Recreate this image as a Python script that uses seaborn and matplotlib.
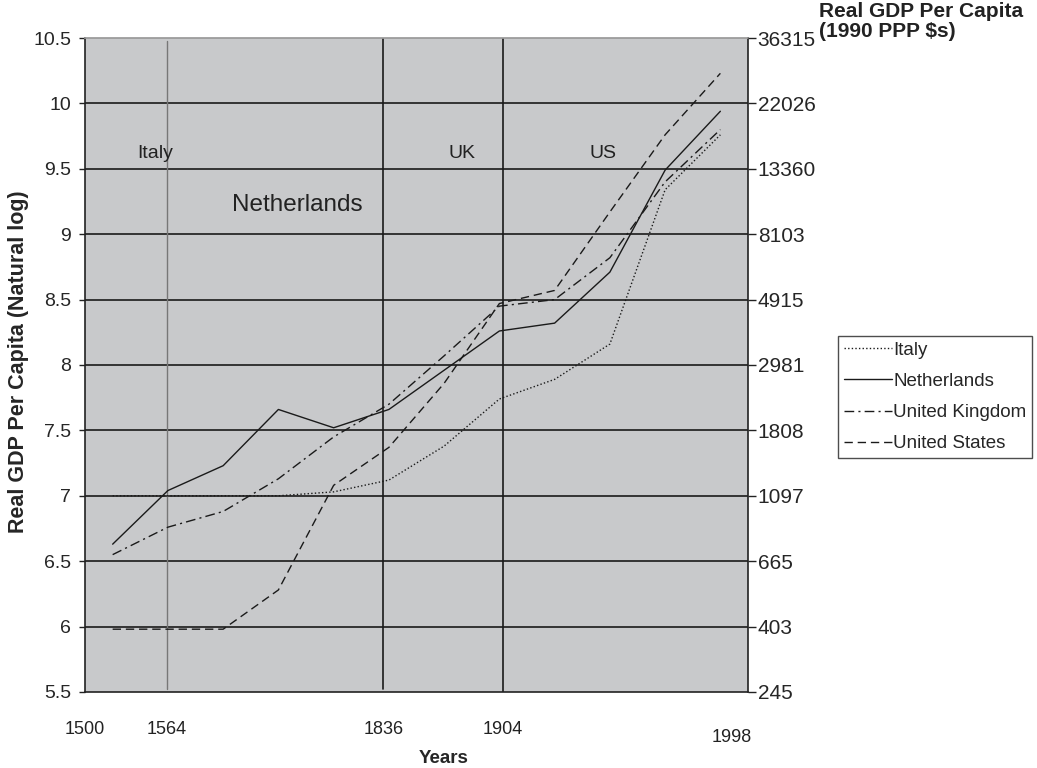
import numpy as np
import pandas as pd
import seaborn as sns
import matplotlib.pyplot as plt
from matplotlib.lines import Line2D

# data: 12 evenly spaced periods, log real GDP per capita
periods = list(range(12))
italy = [7.00, 7.00, 7.00, 7.00, 7.03, 7.12, 7.38, 7.74, 7.89, 8.16, 9.34, 9.76]
netherlands = [6.63, 7.04, 7.23, 7.66, 7.52, 7.66, 7.96, 8.26, 8.32, 8.71, 9.49, 9.94]
united_kingdom = [6.55, 6.76, 6.88, 7.13, 7.45, 7.70, 8.07, 8.45, 8.50, 8.82, 9.40, 9.80]
united_states = [5.98, 5.98, 5.98, 6.28, 7.08, 7.37, 7.86, 8.47, 8.57, 9.17, 9.76, 10.23]
countries = ['Italy', 'Netherlands', 'United Kingdom', 'United States']

left_ticks = [5.5, 6, 6.5, 7, 7.5, 8, 8.5, 9, 9.5, 10, 10.5]
left_labels = ['5.5', '6', '6.5', '7', '7.5', '8', '8.5', '9', '9.5', '10', '10.5']
right_labels = ['245', '403', '665', '1097', '1808', '2981', '4915', '8103',
                '13360', '22026', '36315']

# year labels under the axis and the leadership-change markers (period units)
year_labels = ['1500', '1564', '1836', '1904', '1998']
year_pos = [-0.5, 0.98, 4.9, 7.07, 11.2]
marker_pos = [0.98, 4.9, 7.07]
leader_names = ['Italy', 'UK', 'US']
leader_pos = [0.77, 6.32, 8.88]

df = pd.DataFrame({
    'period': periods * 4,
    'value': italy + netherlands + united_kingdom + united_states,
    'country': sum([[c] * 12 for c in countries], []),
})

sns.set_theme(style='white')
plt.rcParams['font.family'] = ['Liberation Sans', 'DejaVu Sans']

fig = plt.figure(figsize=(10.37, 7.68), dpi=100)
ax = fig.add_axes([0.082, 0.099, 0.6393, 0.8515])
ax.set_facecolor('#c8c9cb')

dash_map = {'Italy': (1, 1.6), 'Netherlands': '', 'United Kingdom': (7, 3, 1.5, 3),
            'United States': (6, 3.5)}
sns.lineplot(data=df, x='period', y='value', hue='country', style='country',
             palette=['#1a1a1a'] * 4, dashes=dash_map, linewidth=1.0,
             legend=False, ax=ax, zorder=3)

ax.set_xlim(-0.5, 11.5)
ax.set_ylim(5.5, 10.5)
ax.set_yticks(left_ticks)
ax.set_yticklabels(left_labels, fontsize=14)
ax.set_xticks(np.arange(-0.5, 12, 1))
ax.set_xticklabels([])
ax.tick_params(axis='x', direction='out', length=5, width=1, color='#222222')
ax.tick_params(axis='y', direction='out', length=4, width=1, color='#222222', pad=6)
for y in left_ticks[1:-1]:
    ax.axhline(y, color='#1a1a1a', lw=1.2, zorder=1)

# leadership change markers
ax.axvline(marker_pos[0], color='#777777', lw=1.0, ymax=0.995, ymin=0.005, zorder=2)
ax.axvline(marker_pos[1], color='#1a1a1a', lw=1.2, ymin=0.005, zorder=2)
ax.axvline(marker_pos[2], color='#1a1a1a', lw=1.2, zorder=2)

for name, xp in zip(leader_names, leader_pos):
    ax.text(xp, 9.62, name, fontsize=14, ha='center', va='center', color='#222222')
ax.text(3.34, 9.22, 'Netherlands', fontsize=17.5, ha='center', va='center', color='#222222')

trans = ax.get_xaxis_transform()
for lab, xp in zip(year_labels, year_pos):
    yy = -0.07 if lab == '1998' else -0.058
    ax.text(xp, yy, lab, transform=trans, fontsize=13, ha='center', va='center',
            color='#222222')

for side in ['left', 'bottom', 'right']:
    ax.spines[side].set_color('#222222')
    ax.spines[side].set_linewidth(1.2)
ax.spines['top'].set_color('#999999')

ax.set_xlabel('Years', fontsize=13.5, fontweight='bold')
ax.xaxis.set_label_coords(0.541, -0.089)
ax.set_ylabel('Real GDP Per Capita (Natural log)', fontsize=15.5, fontweight='bold')
ax.yaxis.set_label_coords(-0.084, 0.505)

ax2 = ax.twinx()
ax2.set_ylim(5.5, 10.5)
ax2.set_yticks(left_ticks)
ax2.set_yticklabels(right_labels, fontsize=15)
ax2.tick_params(axis='y', direction='out', length=6, width=1, color='#222222', pad=1)
for side in ['left', 'bottom', 'right', 'top']:
    ax2.spines[side].set_visible(False)
ax2.grid(False)

fig.text(0.790, 0.997, 'Real GDP Per Capita\n(1990 PPP $s)', fontsize=15,
         fontweight='bold', ha='left', va='top', linespacing=1.05, color='#222222')

handles = [Line2D([], [], color='#1a1a1a', lw=1.0, dashes=dash_map[c])
           if dash_map[c] else Line2D([], [], color='#1a1a1a', lw=1.0, linestyle='-')
           for c in countries]
leg = fig.legend(handles, countries, loc='upper left', bbox_to_anchor=(0.808, 0.5625),
                 fontsize=13.5, frameon=True, fancybox=False, handlelength=2.6,
                 handletextpad=0.05, labelspacing=0.75, borderpad=0.3,
                 borderaxespad=0)
leg.get_frame().set_edgecolor('#222222')
leg.get_frame().set_linewidth(1.0)

plt.savefig('out.png', dpi=100)
